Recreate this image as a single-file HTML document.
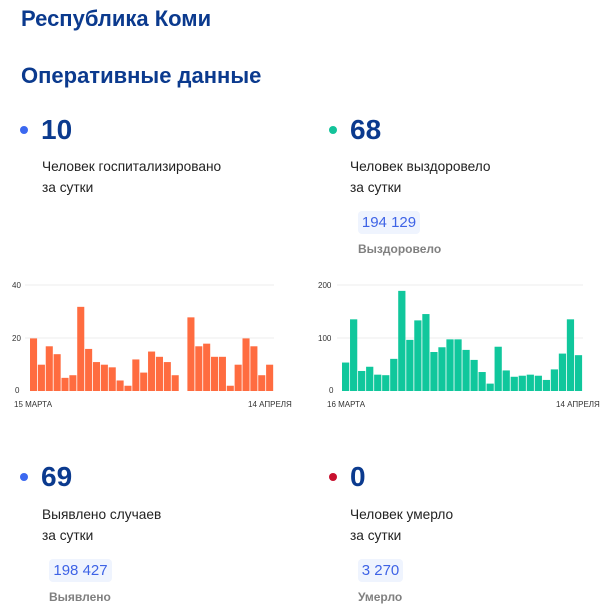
<!DOCTYPE html>
<html><head><meta charset="utf-8"><style>
body{margin:0;width:603px;height:611px;background:#fff;position:relative;overflow:hidden;font-family:"Liberation Sans",sans-serif}
.a{position:absolute;white-space:nowrap}
.h{color:#0b3a8e;font-weight:bold;font-size:22px}
.n{color:#0b3a8e;font-weight:bold;font-size:28px}
.t{color:#222;font-size:13.7px}
.dot{position:absolute;width:8px;height:8px;border-radius:50%}
.b{position:absolute;background:#eff4fe;border-radius:4px;color:#3e63e6;font-size:15px;text-align:center;line-height:23px;height:23px}
.g{color:#808080;font-size:12px;font-weight:bold}
</style></head><body>
<div class="a h" style="left:21px;top:6px">Республика Коми</div>
<div class="a h" style="left:21px;top:63px">Оперативные данные</div>

<div class="dot" style="left:20px;top:126px;background:#3b68f0"></div>
<div class="a n" style="left:41px;top:114px">10</div>
<div class="a t" style="left:42px;top:159px">Человек госпитализировано</div>
<div class="a t" style="left:42px;top:180px">за сутки</div>

<div class="dot" style="left:329px;top:126px;background:#13c39a"></div>
<div class="a n" style="left:350px;top:114px">68</div>
<div class="a t" style="left:350px;top:159px">Человек выздоровело</div>
<div class="a t" style="left:350px;top:180px">за сутки</div>
<div class="b" style="left:358px;top:211px;width:62px">194 129</div>
<div class="a g" style="left:358px;top:242px">Выздоровело</div>

<div class="dot" style="left:20px;top:473px;background:#3b68f0"></div>
<div class="a n" style="left:41px;top:461px">69</div>
<div class="a t" style="left:42px;top:507px">Выявлено случаев</div>
<div class="a t" style="left:42px;top:528px">за сутки</div>
<div class="b" style="left:49px;top:559px;width:63px">198 427</div>
<div class="a g" style="left:49px;top:590px">Выявлено</div>

<div class="dot" style="left:329px;top:473px;background:#c8102e"></div>
<div class="a n" style="left:350px;top:461px">0</div>
<div class="a t" style="left:350px;top:507px">Человек умерло</div>
<div class="a t" style="left:350px;top:528px">за сутки</div>
<div class="b" style="left:358px;top:559px;width:45px">3 270</div>
<div class="a g" style="left:358px;top:590px">Умерло</div>

<svg id="s" width="603" height="611" style="position:absolute;left:0;top:0" font-family="Liberation Sans, sans-serif" font-size="8" fill="#333">
<line x1="25" y1="285" x2="274" y2="285" stroke="#eee"/>
<line x1="25" y1="338" x2="274" y2="338" stroke="#eee"/>
<line x1="337" y1="285" x2="583" y2="285" stroke="#eee"/>
<line x1="337" y1="338" x2="583" y2="338" stroke="#eee"/>
<text x="12" y="288">40</text><text x="12" y="341">20</text><text x="15" y="393">0</text>
<text x="318" y="288">200</text><text x="318" y="341">100</text><text x="329" y="393">0</text>
<text x="14" y="407">15 МАРТА</text><text x="248" y="407">14 АПРЕЛЯ</text>
<text x="327" y="407">16 МАРТА</text><text x="556" y="407">14 АПРЕЛЯ</text>
<g id="l" fill="#ff6c40"></g><g id="r" fill="#10c79c"></g>
</svg>
<script>
var L=[20,10,17,14,5,6,32,16,11,10,9,4,2,12,7,15,13,11,6,0,28,17,18,13,13,2,10,20,17,6,10];
var R=[54,136,38,46,31,30,61,190,97,134,146,74,83,98,98,78,59,36,14,84,39,27,29,31,29,21,41,71,136,68];
function d(id,a,x0,w,k){var g=document.getElementById(id),s='';a.forEach(function(v,i){var h=v*k;if(h>0)s+='<rect x="'+(x0+i*w)+'" y="'+(391-h)+'" width="'+(w-0.8)+'" height="'+h+'"/>';});g.innerHTML=s;}
d('l',L,30,7.87,2.63);d('r',R,342,8.03,0.527);
</script>
</body></html>
